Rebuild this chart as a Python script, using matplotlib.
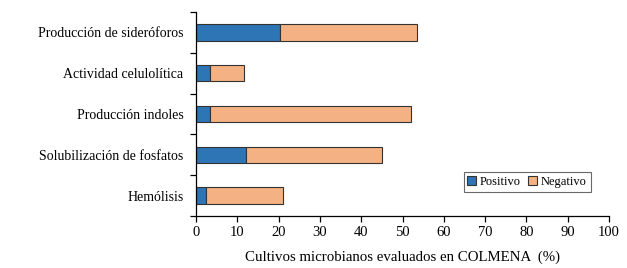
import numpy as np
import matplotlib.pyplot as plt
from matplotlib.ticker import FixedLocator

plt.rcParams['font.family'] = ['Liberation Serif', 'DejaVu Serif']

categorias = ['Producción de sideróforos', 'Actividad celulolítica', 'Producción indoles',
              'Solubilización de fosfatos', 'Hemólisis']
positivo = [20.3, 3.4, 3.4, 12.0, 2.4]
negativo = [33.1, 8.3, 48.7, 33.0, 18.6]

y_pos = np.arange(len(categorias))[::-1]

fig = plt.figure(figsize=(6.27, 2.68), dpi=100)
ax = fig.add_axes([0.3126, 0.194, 0.6587, 0.761])

ax.barh(y_pos, positivo, height=0.4, color='#2E75B6', edgecolor='#333333', linewidth=0.8, label='Positivo')
ax.barh(y_pos, negativo, left=positivo, height=0.4, color='#F4B183', edgecolor='#333333', linewidth=0.8, label='Negativo')

ax.set_xlim(0, 100)
ax.set_ylim(-0.5, len(categorias) - 0.5)
ax.set_xticks(np.arange(0, 101, 10))
ax.set_yticks(y_pos)
ax.set_yticklabels(categorias, fontsize=10)
ax.tick_params(axis='y', which='major', length=0, pad=9)
ax.yaxis.set_minor_locator(FixedLocator(np.arange(-0.5, len(categorias), 1.0)))
ax.tick_params(axis='y', which='minor', length=4, width=0.9)
ax.tick_params(axis='x', labelsize=10.5, length=4, width=0.9)

for s in ['top', 'right']:
    ax.spines[s].set_visible(False)
for s in ['left', 'bottom']:
    ax.spines[s].set_linewidth(0.9)

ax.set_xlabel('Cultivos microbianos evaluados en COLMENA  (%)', fontsize=10.7, labelpad=8)

leg = ax.legend(loc='lower left', bbox_to_anchor=(0.648, 0.12), ncol=2, fontsize=9,
                frameon=True, fancybox=False, handlelength=0.7, handleheight=0.7,
                handletextpad=0.3, columnspacing=0.6, borderpad=0.3, borderaxespad=0)
leg.get_frame().set_edgecolor('#444444')
leg.get_frame().set_linewidth(0.8)

fig.savefig('out.png', dpi=100)
